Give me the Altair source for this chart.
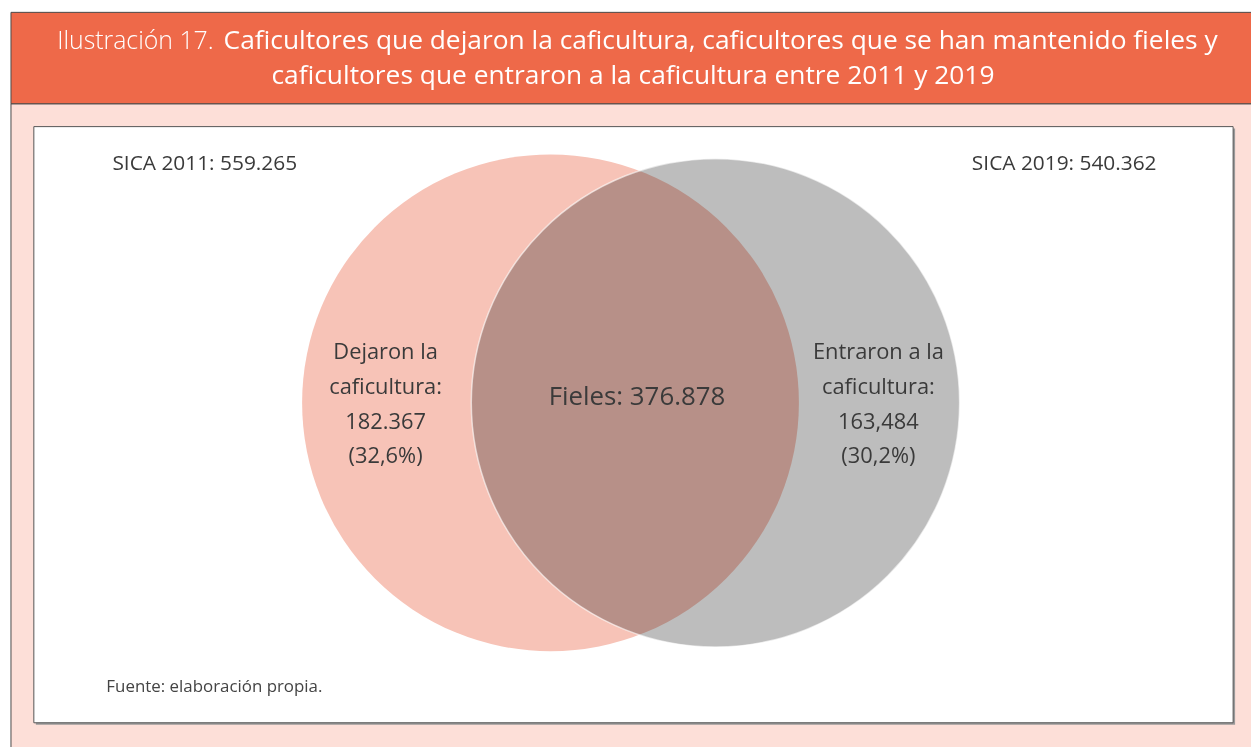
import altair as alt
import pandas as pd

# ---- data ----
sets = ["SICA 2011", "SICA 2019"]
set_totals = [559265, 540362]
set_labels = ["SICA 2011: 559.265", "SICA 2019: 540.362"]
regions = ["Dejaron", "Fieles", "Entraron"]
region_labels = [
    "Dejaron la\ncaficultura:\n182.367\n(32,6%)",
    "Fieles: 376.878",
    "Entraron a la\ncaficultura:\n163,484\n(30,2%)",
]
title_prefix = "Ilustración 17."
title_line1 = "Caficultores que dejaron la caficultura, caficultores que se han mantenido fieles y"
title_line2 = "caficultores que entraron a la caficultura entre 2011 y 2019"
source_note = "Fuente: elaboración propia."

# ---- style ----
FONT = "Open Sans"
ORANGE = "#EE6949"
PINK_BG = "#FDDFD8"
CIRCLE_COLORS = ["#F7C3B7", "#BDBDBD"]
TEXT = "#3a3a3a"

W, H = 1251, 739
dummy = pd.DataFrame({"k": [0]})


def box(x, x2, y, y2, fill, stroke=None, sw=1):
    kw = dict(fill=fill)
    if stroke:
        kw.update(stroke=stroke, strokeWidth=sw)
    return alt.Chart(dummy).mark_rect(**kw).encode(
        x=alt.value(x), x2=alt.value(x2), y=alt.value(y), y2=alt.value(y2)
    )


def label(text, x, y, size, align="center", weight="normal", color=TEXT, lh=None):
    kw = dict(font=FONT, fontSize=size, align=align, baseline="alphabetic",
              fontWeight=weight, color=color, lineBreak="\n")
    if lh:
        kw["lineHeight"] = lh
    return alt.Chart(pd.DataFrame({"t": [text]})).mark_text(**kw).encode(
        x=alt.value(x), y=alt.value(y), text="t:N"
    )


layers = []
# frames
layers.append(box(3, 1260, 94, 745, PINK_BG, "#4a4a4a", 1))
layers.append(box(3, 1260, 2, 94, ORANGE, "#4a4a4a", 1))
layers.append(box(28, 1235, 119, 719, "#9a9a9a"))
layers.append(box(26, 1233, 117, 717, "white", "#555555", 1))

# title
layers.append(label(title_prefix, 207, 39, 25, align="right", weight=300, color="white"))
layers.append(label(title_line1, 217, 39, 26.5, align="left", weight=500, color="white"))
layers.append(label(title_line2, 629, 74, 26.5, align="center", weight=500, color="white"))

# circles
circ_df = pd.DataFrame({"set": sets, "total": set_totals})
xscale = alt.Scale(type="point", domain=sets, range=[546, 712], padding=0)
rscale = alt.Scale(type="sqrt", domain=[0, max(set_totals)], range=[0, 250], nice=False)
circles = alt.Chart(circ_df).mark_arc(theta=0, theta2=6.2832, blend="multiply").encode(
    x=alt.X("set:N", scale=xscale, axis=None),
    y=alt.value(395),
    radius=alt.Radius("total:Q", scale=rscale, stack=None),
    color=alt.Color("set:N", scale=alt.Scale(domain=sets, range=CIRCLE_COLORS), legend=None),
)
outline = alt.Chart(circ_df).transform_filter(
    alt.datum.set == sets[1]
).mark_arc(theta=0, theta2=6.2832, fillOpacity=0, stroke="white",
           strokeWidth=1.5, strokeOpacity=0.6).encode(
    x=alt.X("set:N", scale=xscale, axis=None),
    y=alt.value(395),
    radius=alt.Radius("total:Q", scale=rscale, stack=None),
)
layers += [circles, outline]

# set labels
layers.append(label(set_labels[0], 198, 161, 21))
layers.append(label(set_labels[1], 1063, 161, 21))

# region labels
layers.append(label(region_labels[0], 380, 351, 22, lh=35))
layers.append(label(region_labels[1], 633, 397, 26))
layers.append(label(region_labels[2], 876, 351, 22, lh=35))

# source
layers.append(label(source_note, 99, 686, 17, align="left", color="#444444"))

chart = alt.layer(*layers).properties(
    width=W, height=H, padding=0,
    autosize=alt.AutoSizeParams(type="none"),
    background="white",
).configure_view(stroke=None)

chart.save("out.html", embed_options={"renderer": "svg", "actions": False})
